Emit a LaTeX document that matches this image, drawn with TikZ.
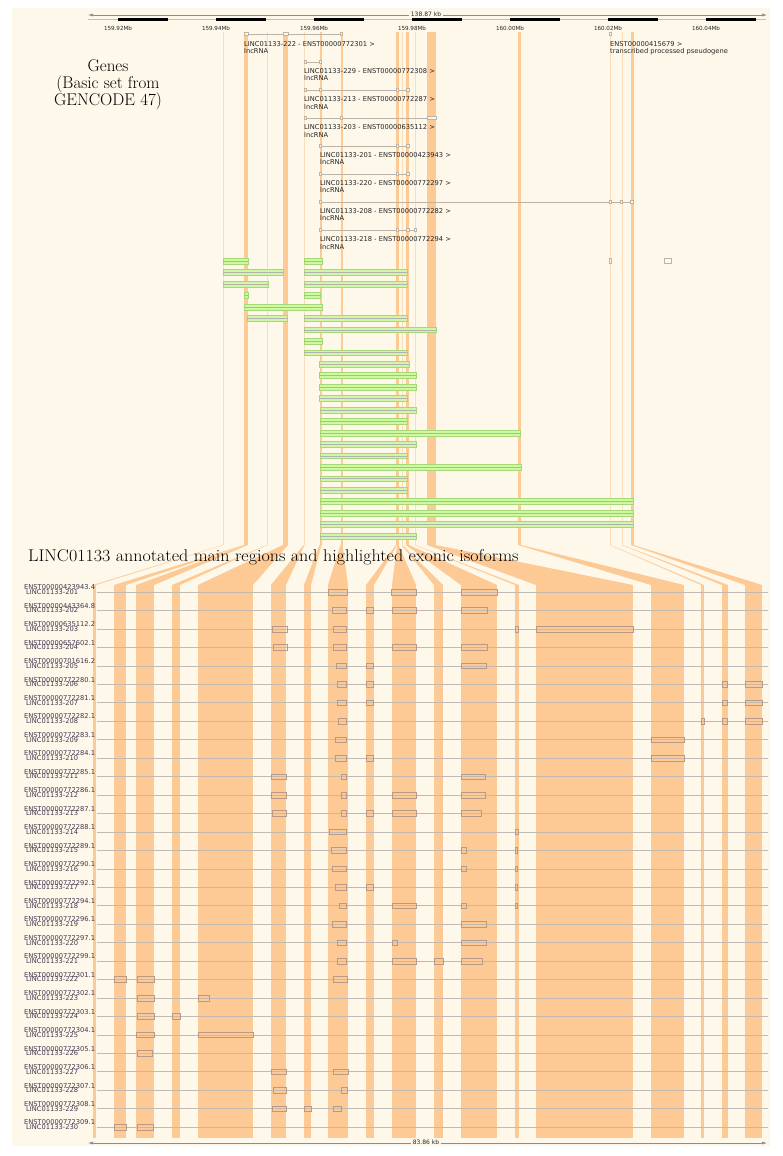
\documentclass[tikz,border=0pt]{standalone}
\usepackage{fontspec}
\usepackage{graphicx}
\newfontfamily\djv{DejaVu Sans}
\usetikzlibrary{arrows.meta}
\definecolor{cream}{HTML}{FEF8EA}
\definecolor{bandc}{HTML}{FDC994}
\definecolor{bandl}{HTML}{FBDDBA}
\definecolor{greenf}{HTML}{CFF9A0}
\definecolor{greend}{HTML}{A6D878}
\definecolor{labc}{HTML}{3E3850}
\definecolor{gmc}{HTML}{BDB3A6}
\definecolor{boxc}{HTML}{B89A86}
\definecolor{rowc}{HTML}{C2BAB0}
\tikzset{
  glab/.style={anchor=west,inner sep=0pt,text=black!85,font=\djv\fontsize{6.7}{7}\selectfont},
  enst/.style={anchor=west,inner sep=0pt,text=labc,font=\djv\fontsize{6.7}{7}\selectfont},
  ticklab/.style={inner sep=0pt,text=black!85,font=\djv\fontsize{5.6}{6}\selectfont},
  rowline/.style={draw=rowc,line width=0.45pt},
  exbox/.style={draw=boxc,line width=0.4pt},
  gbar/.style={fill=greenf,draw=greend,line width=0.4pt},
  gline/.style={draw=black!30,line width=0.3pt},
  gm/.style={draw=gmc,line width=0.4pt},
  gmbox/.style={draw=gmc,line width=0.4pt,fill=cream},
  scaleline/.style={draw=black!45,line width=0.5pt},
}
\newcommand{\isorow}[3]{%
  \pgfmathsetmacro\ry{592+18.45*#1}
  \draw[rowline] (97,\ry) -- (768,\ry);
  \node[enst] (e#3) at (24,\ry-4.6) {#2};
  \node[enst] (l#3) at (26,\ry) {LINC01133-#3};
}
\newcommand{\ebx}[3]{%
  \pgfmathsetmacro\ry{592+18.45*#1}
  \draw[exbox] (#2,\ry-2.8) rectangle (#3,\ry+2.8);
}
\newcommand{\gbr}[3]{%
  \draw[gbar] (#2,#1-2.9) rectangle (#3,#1+2.9);
  \draw[gline] (#2,#1) -- (#3,#1);
}
\newcommand{\gmbx}[3]{\draw[gmbox] (#2,#1-1.6) rectangle (#3,#1+1.6);}
\begin{document}
\begin{tikzpicture}[x=1pt,y=-1pt]
\useasboundingbox (0,0) rectangle (782,1156);
\fill[white] (0,0) rectangle (782,1156);
\fill[cream] (12,8) rectangle (770,1146);

% ---------- bands: bottom l/r, top l/r, top colour
\foreach \bl/\br/\tl/\tr/\tc in {
  93/96/222.6/223.4/bandl,
  114/126/244/245.5/bandc,
  136/154/245.5/248/bandc,
  172/180/266.6/267.4/bandl,
  198/253/283/288/bandc,
  271/286/303.6/304.4/bandl,
  304/311/319.5/321.5/bandc,
  328/348/340.5/342.5/bandc,
  366/374/396/397.2/bandc,
  392/416/397.2/398.5/bandc,
  434/443/401.6/402.4/bandl,
  461/497/406/409/bandc,
  515/519/414.6/415.4/bandl,
  536/633/427/436/bandc,
  651/684/518/521/bandc,
  701/704/609.6/610.4/bandl,
  722/728/621.6/622.4/bandl,
  745/762/631/633.5/bandc}{
  \fill[\tc] (\tl,32) rectangle (\tr,545);
  \fill[bandc] (\tl,545) -- (\tr,545) -- (\br,585) -- (\bl,585) -- cycle;
  \fill[bandc] (\bl,585) rectangle (\br,1138);
}

% ---------- top scale
\draw[scaleline,{Latex[length=5pt,width=3pt]}-{Latex[length=5pt,width=3pt]}] (88,15) -- (767,15);
\node[ticklab,fill=cream,inner xsep=2pt,font=\djv\fontsize{6}{6}\selectfont] (kb1) at (426,14) {138.87 kb};
\draw[draw=black!25,line width=0.8pt] (88,19.5) -- (766,19.5);
\foreach \s/\lab in {118/159.92Mb,216/159.94Mb,314/159.96Mb,412/159.98Mb,510/160.00Mb,608/160.02Mb,706/160.04Mb}{
  \fill[black] (\s,18.3) rectangle (\s+49.5,20.7);
  \node[ticklab] (t\s) at (\s,28) {\lab};
}

% ---------- genes title
\node[align=center,inner sep=0pt,font=\fontsize{17}{17}\selectfont] (genes) at (108,85) {Genes\\(Basic set from\\GENCODE 47)};

% ---------- gene models + labels
\draw[gm] (244,34) -- (342,34); \gmbx{34}{244}{248} \gmbx{34}{283}{288} \gmbx{34}{340}{342.5}
\node[glab] (g222) at (244,44) {LINC01133-222 - ENST00000772301 >};
\node[glab] (g222b) at (244,51.5) {lncRNA};
\draw[gm] (610,34) -- (612,34); \gmbx{34}{609.5}{611.5}
\node[glab] (gps) at (610,44) {ENST00000415679 >};
\node[glab] (gpsb) at (610,51.5) {transcribed processed pseudogene};

\draw[gm] (304,62) -- (321,62); \gmbx{62}{304}{306} \gmbx{62}{319.5}{321.5}
\node[glab] (g229) at (304,71) {LINC01133-229 - ENST00000772308 >};
\node[glab] (g229b) at (304,78.5) {lncRNA};

\draw[gm] (304,90) -- (409,90); \gmbx{90}{304}{306} \gmbx{90}{319.5}{321.5} \gmbx{90}{396}{398.5} \gmbx{90}{406}{409}
\node[glab] (g213) at (304,99.5) {LINC01133-213 - ENST00000772287 >};
\node[glab] (g213b) at (304,107) {lncRNA};

\draw[gm] (304,118) -- (436,118); \gmbx{118}{304}{306} \gmbx{118}{340.5}{342.5} \gmbx{118}{427}{436}
\node[glab] (g203) at (304,127.5) {LINC01133-203 - ENST00000635112 >};
\node[glab] (g203b) at (304,135) {lncRNA};

\draw[gm] (320,146) -- (409,146); \gmbx{146}{319.5}{321.5} \gmbx{146}{396}{398.5} \gmbx{146}{406}{409}
\node[glab] (g201) at (320,155) {LINC01133-201 - ENST00000423943 >};
\node[glab] (g201b) at (320,162.5) {lncRNA};

\draw[gm] (320,174) -- (409,174); \gmbx{174}{319.5}{321.5} \gmbx{174}{396}{398.5} \gmbx{174}{406}{409}
\node[glab] (g220) at (320,183) {LINC01133-220 - ENST00000772297 >};
\node[glab] (g220b) at (320,190.5) {lncRNA};

\draw[gm] (320,202) -- (633,202); \gmbx{202}{319.5}{321.5} \gmbx{202}{609.5}{611.5} \gmbx{202}{620.5}{622.5} \gmbx{202}{630.5}{633}
\node[glab] (g208) at (320,211) {LINC01133-208 - ENST00000772282 >};
\node[glab] (g208b) at (320,218.5) {lncRNA};

\draw[gm] (320,230) -- (416,230); \gmbx{230}{319.5}{321.5} \gmbx{230}{396}{398.5} \gmbx{230}{406}{409} \gmbx{230}{414}{416}
\node[glab] (g218) at (320,239) {LINC01133-218 - ENST00000772294 >};
\node[glab] (g218b) at (320,246.5) {lncRNA};

% ---------- green transcripts
\gbr{261}{223}{248} \gbr{261}{304}{322}
\draw[gmbox] (609.5,258.5) rectangle (611.5,263.5);
\draw[gmbox] (664,258.5) rectangle (671,263.5);
\gbr{272.5}{223}{283} \gbr{272.5}{304}{407}
\gbr{284}{223}{268} \gbr{284}{304}{407}
\gbr{295.4}{244}{248} \gbr{295.4}{304}{320}
\gbr{306.8}{244}{322}
\gbr{318.3}{247}{287} \gbr{318.3}{304}{407}
\gbr{329.7}{304}{436}
\gbr{341}{304}{322}
\gbr{352.6}{304}{407}
\gbr{364}{319}{409}
\gbr{375.5}{319}{416}
\gbr{387}{319}{416}
\gbr{398.4}{319}{407}
\gbr{409.9}{320}{416}
\gbr{421.3}{320}{407}
\gbr{432.8}{320}{520}
\gbr{444.2}{320}{416}
\gbr{455.7}{320}{407}
\gbr{467}{320}{521}
\gbr{478.6}{320}{407}
\gbr{490}{320}{407}
\gbr{501.5}{320}{633}
\gbr{513}{320}{633}
\gbr{524.4}{320}{633}
\gbr{535.9}{320}{416}

% ---------- second title
\node[anchor=west,inner sep=0pt,font=\fontsize{17}{17}\selectfont] (title2) at (28,557) {\scalebox{1.06}[1]{LINC01133 annotated main regions and highlighted exonic isoforms}};

% ---------- isoform rows
\isorow{0}{ENST00000423943.4}{201}
\isorow{1}{ENST00000443364.8}{202}
\isorow{2}{ENST00000635112.2}{203}
\isorow{3}{ENST00000657602.1}{204}
\isorow{4}{ENST00000701616.2}{205}
\isorow{5}{ENST00000772280.1}{206}
\isorow{6}{ENST00000772281.1}{207}
\isorow{7}{ENST00000772282.1}{208}
\isorow{8}{ENST00000772283.1}{209}
\isorow{9}{ENST00000772284.1}{210}
\isorow{10}{ENST00000772285.1}{211}
\isorow{11}{ENST00000772286.1}{212}
\isorow{12}{ENST00000772287.1}{213}
\isorow{13}{ENST00000772288.1}{214}
\isorow{14}{ENST00000772289.1}{215}
\isorow{15}{ENST00000772290.1}{216}
\isorow{16}{ENST00000772292.1}{217}
\isorow{17}{ENST00000772294.1}{218}
\isorow{18}{ENST00000772296.1}{219}
\isorow{19}{ENST00000772297.1}{220}
\isorow{20}{ENST00000772299.1}{221}
\isorow{21}{ENST00000772301.1}{222}
\isorow{22}{ENST00000772302.1}{223}
\isorow{23}{ENST00000772303.1}{224}
\isorow{24}{ENST00000772304.1}{225}
\isorow{25}{ENST00000772305.1}{226}
\isorow{26}{ENST00000772306.1}{227}
\isorow{27}{ENST00000772307.1}{228}
\isorow{28}{ENST00000772308.1}{229}
\isorow{29}{ENST00000772309.1}{230}

\ebx{0}{328}{347} \ebx{0}{391}{416} \ebx{0}{461}{497}
\ebx{1}{332}{346} \ebx{1}{366}{373} \ebx{1}{392}{416} \ebx{1}{461}{487}
\ebx{2}{272}{287} \ebx{2}{333}{346} \ebx{2}{515}{518} \ebx{2}{536}{633}
\ebx{3}{273}{287} \ebx{3}{333}{346} \ebx{3}{392}{416} \ebx{3}{461}{487}
\ebx{4}{336}{346} \ebx{4}{366}{373} \ebx{4}{461}{486}
\ebx{5}{337}{346} \ebx{5}{366}{373} \ebx{5}{722}{727} \ebx{5}{745}{762}
\ebx{6}{337}{346} \ebx{6}{366}{373} \ebx{6}{722}{727} \ebx{6}{745}{762}
\ebx{7}{338}{346} \ebx{7}{701}{704} \ebx{7}{722}{727} \ebx{7}{745}{762}
\ebx{8}{335}{346} \ebx{8}{651}{684}
\ebx{9}{335}{346} \ebx{9}{366}{373} \ebx{9}{651}{684}
\ebx{10}{271}{286} \ebx{10}{341}{346} \ebx{10}{461}{485}
\ebx{11}{271}{286} \ebx{11}{341}{346} \ebx{11}{392}{416} \ebx{11}{461}{485}
\ebx{12}{272}{286} \ebx{12}{341}{346} \ebx{12}{366}{373} \ebx{12}{392}{416} \ebx{12}{461}{481}
\ebx{13}{329}{346} \ebx{13}{515}{518}
\ebx{14}{331}{346} \ebx{14}{461}{466} \ebx{14}{515}{517}
\ebx{15}{332}{346} \ebx{15}{461}{466} \ebx{15}{515}{517}
\ebx{16}{335}{346} \ebx{16}{366}{373} \ebx{16}{515}{517}
\ebx{17}{339}{346} \ebx{17}{392}{416} \ebx{17}{461}{466} \ebx{17}{515}{517}
\ebx{18}{332}{346} \ebx{18}{461}{486}
\ebx{19}{337}{346} \ebx{19}{392}{397} \ebx{19}{461}{486}
\ebx{20}{337}{346} \ebx{20}{392}{416} \ebx{20}{434}{443} \ebx{20}{461}{482}
\ebx{21}{114}{126} \ebx{21}{137}{154} \ebx{21}{333}{347}
\ebx{22}{137}{154} \ebx{22}{198}{209}
\ebx{23}{137}{154} \ebx{23}{172}{180}
\ebx{24}{136}{154} \ebx{24}{198}{253}
\ebx{25}{137}{152}
\ebx{26}{271}{286} \ebx{26}{333}{348}
\ebx{27}{273}{286} \ebx{27}{341}{347}
\ebx{28}{272}{286} \ebx{28}{304}{311} \ebx{28}{333}{341}
\ebx{29}{114}{126} \ebx{29}{137}{153}

% ---------- bottom scale
\draw[scaleline,{Latex[length=5pt,width=3pt]}-{Latex[length=5pt,width=3pt]}] (88,1143) -- (767,1143);
\node[ticklab,fill=cream,inner xsep=2pt,font=\djv\fontsize{6}{6}\selectfont] (kb2) at (426,1142) {83.86 kb};
\end{tikzpicture}
\end{document}
